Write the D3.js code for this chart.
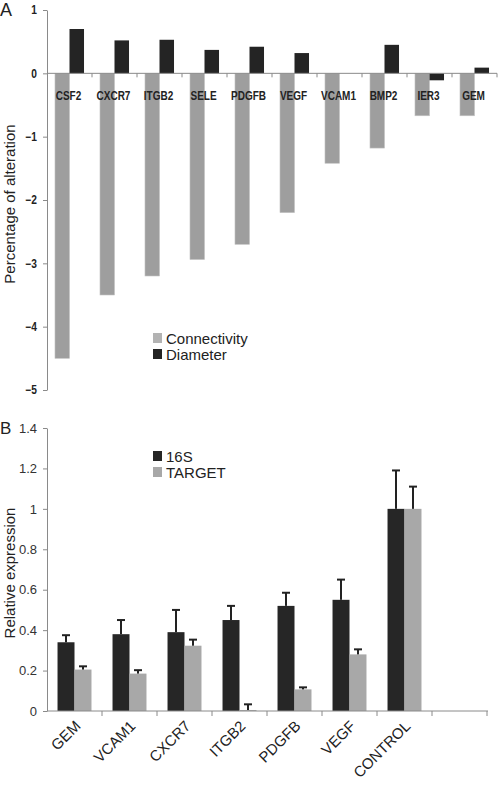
<!DOCTYPE html>
<html>
<head>
<meta charset="utf-8">
<script src="https://cdn.jsdelivr.net/npm/d3@7"></script>
<style>
  html, body { margin: 0; padding: 0; background: #fff; }
  svg { display: block; }
</style>
</head>
<body>
<svg id="chart" width="500" height="790"></svg>
<script>
// ---------- Panel A data ----------
const categoriesA = ["CSF2", "CXCR7", "ITGB2", "SELE", "PDGFB", "VEGF", "VCAM1", "BMP2", "IER3", "GEM"];
const connectivity = [-4.5, -3.5, -3.2, -2.94, -2.7, -2.2, -1.42, -1.18, -0.67, -0.67];
const diameter = [0.7, 0.52, 0.53, 0.37, 0.42, 0.32, 0, 0.45, -0.11, 0.09];
const ticksA = [-5, -4, -3, -2, -1, 0, 1];
const seriesA = ["Connectivity", "Diameter"];

// ---------- Panel B data ----------
const categoriesB = ["GEM", "VCAM1", "CXCR7", "ITGB2", "PDGFB", "VEGF", "CONTROL", ""];
const s16S = [0.34, 0.38, 0.39, 0.45, 0.52, 0.55, 1.0, null];
const s16SErr = [0.035, 0.07, 0.11, 0.07, 0.065, 0.10, 0.19, null];
const target = [0.205, 0.185, 0.323, 0.005, 0.107, 0.28, 1.0, null];
const targetErr = [0.016, 0.017, 0.03, 0.028, 0.01, 0.025, 0.11, null];
const ticksB = [0, 0.2, 0.4, 0.6, 0.8, 1, 1.2, 1.4];
const seriesB = ["16S", "TARGET"];

const svg = d3.select("#chart");
const axisCol = "#8a8a8a";
const textCol = "#222";
const sans = "'Liberation Sans', Arial, Helvetica, sans-serif";

// ================= Panel A =================
const xA = d3.scaleBand().domain(categoriesA).range([47, 497]).paddingInner(0).paddingOuter(0);
const subA = d3.scaleBand().domain(seriesA).range([0, xA.bandwidth()]).paddingInner(0).paddingOuter(0.55);
const yA = d3.scaleLinear().domain([-5, 1]).range([390, 10]);
const colA = { Connectivity: "#9e9e9e", Diameter: "#242424" };
const legColA = { Connectivity: "#b3b3b3", Diameter: "#242424" };

const gA = svg.append("g");
const rowsA = categoriesA.map((c, i) => ({ c, vals: [ ["Connectivity", connectivity[i]], ["Diameter", diameter[i]] ] }));

gA.selectAll("g.cat").data(rowsA).join("g").attr("class", "cat")
  .attr("transform", d => `translate(${xA(d.c)},0)`)
  .selectAll("rect").data(d => d.vals.filter(v => v[1] !== 0)).join("rect")
  .attr("x", v => subA(v[0]))
  .attr("width", subA.bandwidth())
  .attr("y", v => yA(Math.max(0, v[1])))
  .attr("height", v => Math.abs(yA(v[1]) - yA(0)))
  .attr("fill", v => colA[v[0]])
  .attr("stroke", v => v[0] === "Connectivity" ? "#c4c4c4" : "none")
  .attr("stroke-width", 0.6);

// y axis A
const yAxisA = d3.axisLeft(yA).tickValues(ticksA).tickSize(4).tickSizeOuter(0).tickPadding(6).tickFormat(d3.format("d"));
const gyA = gA.append("g").attr("transform", "translate(47,0)").call(yAxisA);
gyA.select(".domain").attr("stroke", axisCol);
gyA.selectAll(".tick line").attr("stroke", axisCol);
gyA.selectAll(".tick text").attr("fill", textCol).attr("font-family", sans)
  .attr("font-weight", "bold").attr("font-size", 12)
  .attr("transform", "scale(0.85,1)").attr("x", -10 / 0.85);

// x axis A (at zero)
const gxA = gA.append("g").attr("transform", `translate(0,${yA(0)})`);
gxA.append("line").attr("x1", 47).attr("x2", 497).attr("stroke", axisCol);
gxA.selectAll("line.tk").data(categoriesA.slice(1).map(c => xA(c)).concat([xA.range()[1]]))
  .join("line").attr("class", "tk")
  .attr("x1", d => d).attr("x2", d => d).attr("y1", 0).attr("y2", 4).attr("stroke", axisCol);
gA.selectAll("g.catA").data(categoriesA).join("g").attr("class", "catA")
  .attr("transform", c => `translate(${xA(c) + xA.bandwidth() / 2 - 1},100)`)
  .append("text")
  .attr("transform", "scale(0.8,1)")
  .attr("text-anchor", "middle")
  .attr("font-family", sans).attr("font-weight", "bold").attr("font-size", 12.5)
  .attr("fill", textCol)
  .text(c => c);

// y title A
gA.append("text").attr("transform", "translate(15,204) rotate(-90)")
  .attr("text-anchor", "middle").attr("font-family", sans).attr("font-size", 15)
  .attr("fill", textCol).text("Percentage of alteration");
svg.append("text").attr("x", 0).attr("y", 16).attr("font-family", sans).attr("font-size", 18)
  .attr("fill", textCol).text("A");

// legend A
const legA = gA.append("g").attr("transform", "translate(153,333)");
seriesA.forEach((s, i) => {
  legA.append("rect").attr("x", 0).attr("y", i * 16).attr("width", 9).attr("height", 10).attr("fill", legColA[s]);
  legA.append("text").attr("x", 13).attr("y", i * 16 + 11).attr("font-family", sans).attr("font-size", 15)
    .attr("fill", textCol).text(s);
});

// ================= Panel B =================
const xB = d3.scaleBand().domain(categoriesB).range([47, 487]).paddingInner(0).paddingOuter(0);
const subB = d3.scaleBand().domain(seriesB).range([0, xB.bandwidth()]).paddingInner(0).paddingOuter(0.62);
const yB = d3.scaleLinear().domain([0, 1.4]).range([711, 428]);
const colB = { "16S": "#262626", "TARGET": "#a8a8a8" };

const gB = svg.append("g");
const rowsB = categoriesB.map((c, i) => ({ c, vals: [ ["16S", s16S[i], s16SErr[i]], ["TARGET", target[i], targetErr[i]] ] }))
  .filter(d => d.vals[0][1] !== null);

const catsB = gB.selectAll("g.cat").data(rowsB).join("g").attr("class", "cat")
  .attr("transform", d => `translate(${xB(d.c)},0)`);
catsB.selectAll("rect").data(d => d.vals).join("rect")
  .attr("x", v => subB(v[0]))
  .attr("width", subB.bandwidth())
  .attr("y", v => yB(v[1]))
  .attr("height", v => yB(0) - yB(v[1]))
  .attr("fill", v => colB[v[0]]);
// error bars (upper only)
const errG = catsB.selectAll("g.err").data(d => d.vals).join("g").attr("class", "err")
  .attr("transform", v => `translate(${subB(v[0]) + subB.bandwidth() / 2},0)`);
errG.append("line").attr("x1", 0).attr("x2", 0)
  .attr("y1", v => yB(v[1])).attr("y2", v => yB(v[1] + v[2]))
  .attr("stroke", "#222").attr("stroke-width", 2);
errG.append("line").attr("x1", -4).attr("x2", 4)
  .attr("y1", v => yB(v[1] + v[2])).attr("y2", v => yB(v[1] + v[2]))
  .attr("stroke", "#222").attr("stroke-width", 2);

// y axis B
const yAxisB = d3.axisLeft(yB).tickValues(ticksB).tickSize(4).tickSizeOuter(0).tickPadding(6).tickFormat(d => d3.format("~g")(d));
const gyB = gB.append("g").attr("transform", "translate(47,0)").call(yAxisB);
gyB.select(".domain").attr("stroke", axisCol);
gyB.selectAll(".tick line").attr("stroke", axisCol);
gyB.selectAll(".tick text").attr("fill", "#333").attr("font-family", sans).attr("font-size", 13);

// x axis B
const gxB = gB.append("g").attr("transform", `translate(0,${yB(0)})`);
gxB.append("line").attr("x1", 47).attr("x2", 488).attr("stroke", axisCol);
gxB.selectAll("line.tk").data(categoriesB.map(c => xB(c)).slice(1).concat([xB.range()[1]]))
  .join("line").attr("class", "tk")
  .attr("x1", d => d).attr("x2", d => d).attr("y1", 0).attr("y2", 5).attr("stroke", axisCol);
const labB = gB.selectAll("g.catB").data(categoriesB.filter(c => c)).join("g").attr("class", "catB")
  .attr("transform", c => `translate(${xB(c) + xB.bandwidth() / 2 + 7},727)`);
labB.append("text")
  .attr("transform", "rotate(-45)")
  .attr("text-anchor", "end")
  .attr("font-family", sans).attr("font-size", 15)
  .attr("fill", textCol)
  .text(c => c);

// y title B
gB.append("text").attr("transform", "translate(15,573) rotate(-90)")
  .attr("text-anchor", "middle").attr("font-family", sans).attr("font-size", 15)
  .attr("fill", textCol).text("Relative expression");
svg.append("text").attr("x", 0).attr("y", 434).attr("font-family", sans).attr("font-size", 17)
  .attr("fill", textCol).text("B");

// legend B
const legB = gB.append("g").attr("transform", "translate(153,451)");
seriesB.forEach((s, i) => {
  legB.append("rect").attr("x", 0).attr("y", i * 16).attr("width", 9).attr("height", 10).attr("fill", colB[s]);
  legB.append("text").attr("x", 13).attr("y", i * 16 + 11).attr("font-family", sans).attr("font-size", 15)
    .attr("fill", textCol).text(s);
});
</script>
</body>
</html>
